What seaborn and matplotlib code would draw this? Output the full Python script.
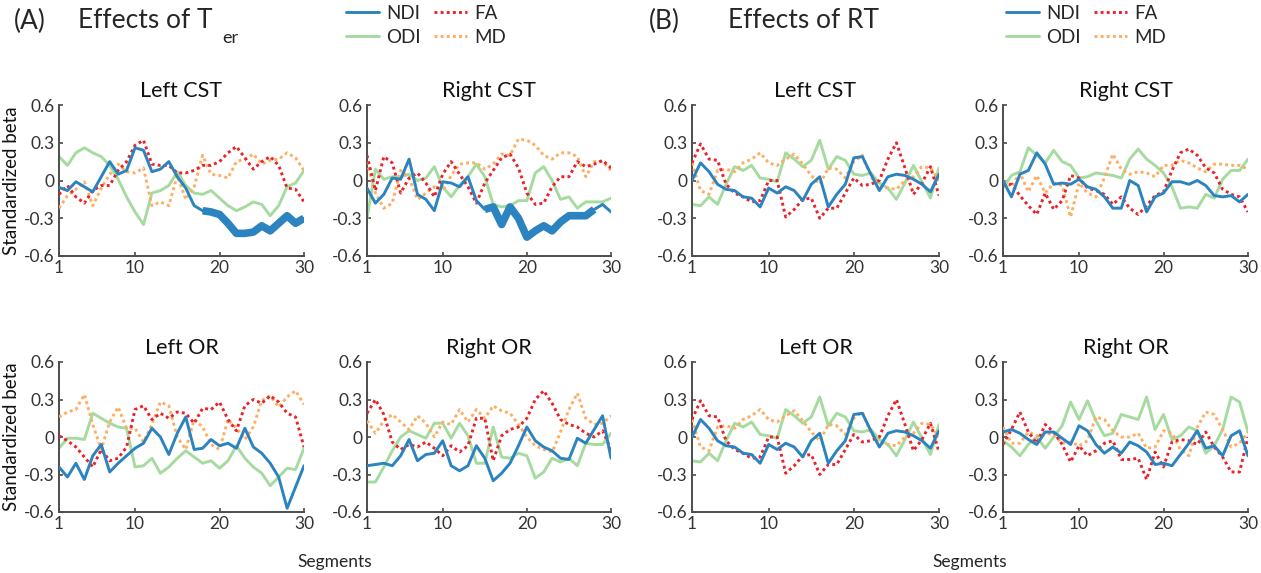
import matplotlib
matplotlib.use("Agg")
import matplotlib.pyplot as plt
import seaborn as sns
import numpy as np
import pandas as pd

# ---------------- data ----------------
segments = list(range(1, 31))
xticks = [1, 10, 20, 30]
xticklabels = ["1", "10", "20", "30"]
yticks = [-0.6, -0.3, 0, 0.3, 0.6]
yticklabels = ["-0.6", "-0.3", "0", "0.3", "0.6"]

# (A) Effects of Ter - Left CST
A_LCST_NDI = [-0.055, -0.08, -0.01, -0.05, -0.09, 0.03, 0.15, 0.05, 0.08, 0.26, 0.24, 0.07, 0.09, 0.15, 0.03,
              -0.06, -0.20, -0.24, -0.25, -0.27, -0.34, -0.42, -0.42, -0.41, -0.36, -0.40, -0.34, -0.28, -0.34, -0.30]
A_LCST_ODI = [0.19, 0.12, 0.22, 0.26, 0.22, 0.19, 0.12, 0.01, -0.13, -0.25, -0.35, -0.10, -0.08, -0.04, 0.07,
              -0.04, -0.10, -0.11, -0.08, -0.14, -0.20, -0.24, -0.21, -0.17, -0.19, -0.28, -0.20, -0.05, -0.02, 0.08]
A_LCST_FA = [-0.11, -0.04, -0.13, -0.18, -0.08, -0.04, -0.04, 0.08, 0.15, 0.28, 0.32, 0.13, 0.12, 0.12, 0.06,
             0.06, 0.08, 0.12, 0.12, 0.15, 0.22, 0.27, 0.18, 0.09, 0.15, 0.19, 0.12, -0.06, -0.07, -0.17]
A_LCST_MD = [-0.22, -0.12, -0.07, -0.01, -0.20, -0.06, 0.05, 0.13, 0.07, 0.06, 0.10, -0.20, -0.17, -0.20, 0.04,
             -0.15, -0.05, 0.20, 0.05, 0.04, 0.02, 0.15, 0.17, 0.21, 0.13, 0.16, 0.17, 0.22, 0.18, 0.08]
A_LCST_SIG = list(range(18, 31))

# (A) Right CST
A_RCST_NDI = [-0.06, -0.18, -0.11, 0.02, 0.01, 0.17, -0.11, -0.15, -0.24, -0.01, -0.02, -0.05, 0.03, -0.16, -0.23,
              -0.21, -0.35, -0.21, -0.30, -0.45, -0.40, -0.36, -0.40, -0.33, -0.28, -0.28, -0.28, -0.23, -0.19, -0.25]
A_RCST_ODI = [-0.30, 0.09, 0.01, 0.03, 0.03, 0.05, 0.00, 0.02, 0.11, -0.05, -0.13, -0.04, 0.03, 0.13, 0.03,
              -0.19, -0.21, -0.20, -0.16, -0.16, 0.06, 0.11, 0.00, -0.15, -0.13, -0.22, -0.17, -0.17, -0.17, -0.14]
A_RCST_FA = [0.20, -0.08, 0.19, 0.14, -0.10, 0.02, 0.06, -0.02, -0.13, 0.05, 0.15, 0.05, -0.05, -0.18, -0.02,
             0.08, 0.18, 0.21, 0.10, -0.10, -0.19, -0.18, -0.05, 0.03, 0.03, 0.15, 0.11, 0.13, 0.16, 0.10]
A_RCST_MD = [0.15, -0.10, -0.22, -0.18, 0.08, 0.02, -0.15, -0.10, -0.05, -0.08, 0.04, 0.13, 0.14, 0.14, 0.09,
             0.13, 0.21, 0.20, 0.33, 0.32, 0.28, 0.20, 0.17, 0.22, 0.22, 0.19, 0.03, 0.15, 0.15, 0.08]
A_RCST_SIG = list(range(15, 29))

# (A) Left OR
A_LOR_NDI = [-0.24, -0.32, -0.21, -0.34, -0.15, -0.06, -0.28, -0.21, -0.15, -0.09, -0.05, 0.07, 0.00, -0.14, 0.03,
             0.16, -0.10, -0.09, -0.02, -0.07, -0.05, -0.09, 0.07, -0.08, -0.13, -0.21, -0.32, -0.57, -0.40, -0.23]
A_LOR_ODI = [-0.09, -0.01, -0.01, -0.02, 0.19, 0.15, 0.11, 0.08, 0.07, -0.24, -0.23, -0.17, -0.29, -0.24, -0.17,
             -0.11, -0.16, -0.21, -0.19, -0.25, -0.19, -0.07, -0.17, -0.24, -0.29, -0.39, -0.32, -0.25, -0.26, -0.09]
A_LOR_FA = [0.01, -0.03, -0.08, -0.16, -0.24, -0.10, -0.19, -0.17, -0.08, 0.22, 0.25, 0.14, 0.19, 0.15, 0.20,
            0.19, 0.11, 0.23, 0.22, 0.28, 0.14, 0.05, 0.25, 0.30, 0.27, 0.33, 0.28, 0.19, 0.16, -0.08]
A_LOR_MD = [0.16, 0.20, 0.22, 0.34, 0.10, -0.10, 0.12, 0.24, 0.07, 0.07, -0.04, 0.10, 0.28, 0.25, 0.00,
            -0.10, 0.14, 0.08, -0.06, -0.10, 0.14, 0.07, -0.02, 0.08, 0.29, 0.33, 0.24, 0.32, 0.37, 0.26]

# (A) Right OR
A_ROR_NDI = [-0.23, -0.22, -0.21, -0.23, -0.15, -0.02, -0.19, -0.14, -0.13, -0.03, -0.23, -0.27, -0.23, -0.07, -0.17,
             -0.35, -0.29, -0.21, -0.07, 0.08, -0.03, -0.08, -0.11, -0.17, -0.18, -0.01, -0.05, 0.06, 0.17, -0.17]
A_ROR_ODI = [-0.36, -0.36, -0.24, -0.11, 0.00, 0.05, 0.02, -0.01, 0.11, 0.11, -0.01, 0.11, 0.01, -0.21, -0.21,
             0.08, -0.16, -0.17, -0.13, -0.15, -0.33, -0.28, -0.17, -0.20, -0.17, -0.23, -0.05, -0.06, -0.06, 0.03]
A_ROR_FA = [0.19, 0.30, 0.18, -0.04, -0.10, -0.06, -0.08, -0.04, -0.09, -0.15, -0.07, -0.12, -0.07, 0.15, 0.15,
            -0.19, 0.01, 0.06, 0.08, 0.15, 0.30, 0.37, 0.27, 0.14, 0.10, 0.08, 0.03, 0.00, 0.05, -0.10]
A_ROR_MD = [0.13, 0.03, 0.13, 0.18, 0.12, 0.06, 0.17, 0.11, 0.00, 0.12, 0.10, 0.22, 0.12, 0.22, 0.15,
            0.25, 0.21, 0.19, 0.10, 0.00, -0.07, -0.10, -0.12, 0.04, 0.22, 0.35, 0.15, 0.10, 0.11, 0.17]

# (B) Effects of RT - Left CST
B_LCST_NDI = [0.00, 0.14, 0.07, -0.03, -0.07, -0.08, -0.13, -0.14, -0.21, -0.06, -0.10, -0.05, -0.08, -0.16, -0.03,
              0.03, -0.21, -0.11, -0.03, 0.18, 0.19, 0.05, -0.08, 0.03, 0.05, 0.04, 0.01, -0.03, -0.09, 0.05]
B_LCST_ODI = [-0.19, -0.20, -0.13, -0.19, -0.03, 0.11, 0.08, 0.12, 0.02, 0.01, -0.01, 0.22, 0.17, 0.11, 0.16,
              0.32, 0.09, 0.19, 0.16, 0.05, 0.04, 0.06, -0.02, -0.06, -0.15, -0.02, 0.12, -0.01, -0.14, 0.10]
B_LCST_FA = [0.14, 0.29, 0.17, 0.16, -0.03, -0.10, -0.13, -0.17, -0.16, 0.00, 0.00, -0.29, -0.23, -0.15, -0.14,
             -0.30, -0.22, -0.22, -0.10, 0.02, -0.04, -0.03, 0.00, 0.17, 0.30, 0.10, -0.11, -0.02, 0.11, -0.12]
B_LCST_MD = [0.14, -0.08, -0.11, 0.08, 0.09, 0.07, 0.14, 0.17, 0.22, 0.14, 0.12, 0.17, 0.21, 0.13, 0.04,
             -0.03, 0.10, 0.09, 0.02, 0.15, 0.20, 0.03, -0.05, -0.06, -0.07, 0.00, 0.03, 0.11, 0.10, 0.00]

# (B) Right CST
B_RCST_NDI = [0.00, -0.13, 0.05, 0.08, 0.22, 0.13, -0.03, -0.02, -0.03, 0.01, -0.05, -0.07, -0.13, -0.22, -0.22,
              0.00, -0.04, -0.25, -0.13, -0.10, -0.01, -0.01, -0.03, 0.00, -0.04, -0.12, -0.13, -0.12, -0.17, -0.11]
B_RCST_ODI = [-0.06, 0.04, 0.07, 0.26, 0.20, 0.14, 0.24, 0.15, 0.12, 0.02, 0.03, 0.06, 0.05, 0.04, 0.02,
              0.17, 0.25, 0.17, 0.12, 0.06, -0.05, -0.22, -0.21, -0.22, -0.11, -0.14, 0.01, 0.08, 0.08, 0.17]
B_RCST_FA = [-0.03, -0.03, -0.12, -0.20, -0.27, -0.10, -0.23, -0.16, 0.04, 0.02, -0.06, -0.08, -0.11, -0.19, -0.13,
             -0.22, -0.27, -0.20, -0.12, -0.09, 0.08, 0.22, 0.25, 0.20, 0.10, 0.06, -0.07, -0.11, -0.13, -0.25]
B_RCST_MD = [0.00, -0.05, 0.06, -0.09, 0.04, -0.10, -0.02, -0.04, -0.29, -0.02, -0.10, -0.13, 0.02, 0.21, 0.09,
             0.05, 0.07, 0.06, 0.03, 0.12, 0.12, 0.16, 0.14, 0.10, 0.07, 0.13, 0.13, 0.12, 0.12, 0.09]

# (B) Left OR
B_LOR_NDI = [0.00, 0.14, 0.07, -0.03, -0.07, -0.08, -0.13, -0.14, -0.21, -0.06, -0.10, -0.05, -0.08, -0.16, -0.03,
             0.03, -0.21, -0.11, -0.03, 0.18, 0.19, 0.05, -0.08, 0.03, 0.05, 0.04, 0.01, -0.03, -0.09, 0.05]
B_LOR_ODI = [-0.19, -0.20, -0.13, -0.19, -0.03, 0.11, 0.08, 0.12, 0.02, 0.01, -0.01, 0.22, 0.17, 0.11, 0.16,
             0.32, 0.09, 0.19, 0.16, 0.05, 0.04, 0.06, -0.02, -0.06, -0.15, -0.02, 0.12, -0.01, -0.14, 0.10]
B_LOR_FA = [0.14, 0.29, 0.17, 0.16, -0.03, -0.10, -0.13, -0.17, -0.16, 0.00, 0.00, -0.29, -0.23, -0.15, -0.14,
            -0.30, -0.22, -0.22, -0.10, 0.02, -0.04, -0.03, 0.00, 0.17, 0.30, 0.10, -0.11, -0.02, 0.11, -0.12]
B_LOR_MD = [0.14, -0.08, -0.11, 0.08, 0.09, 0.07, 0.14, 0.17, 0.22, 0.14, 0.12, 0.17, 0.21, 0.13, 0.04,
            -0.03, 0.10, 0.09, 0.02, 0.15, 0.20, 0.03, -0.05, -0.06, -0.07, 0.00, 0.03, 0.11, 0.10, 0.00]

# (B) Right OR
B_ROR_NDI = [0.04, 0.06, 0.03, -0.02, -0.06, 0.04, 0.04, -0.01, -0.06, 0.09, 0.05, -0.06, -0.13, -0.08, -0.13,
             -0.04, -0.07, -0.12, -0.22, -0.21, -0.23, -0.14, -0.05, 0.05, -0.09, -0.07, -0.15, 0.01, 0.05, -0.15]
B_ROR_ODI = [-0.03, -0.08, -0.15, -0.06, 0.00, -0.09, 0.00, 0.09, 0.28, 0.14, 0.29, 0.13, 0.01, 0.03, 0.18,
             0.16, 0.14, 0.32, 0.06, 0.18, -0.02, 0.01, 0.08, 0.05, -0.13, -0.07, 0.06, 0.32, 0.28, 0.04]
B_ROR_FA = [-0.06, 0.06, 0.20, 0.04, -0.05, 0.10, 0.04, -0.06, -0.20, -0.07, -0.15, -0.11, -0.05, -0.03, -0.18,
            -0.18, -0.17, -0.34, -0.12, -0.24, -0.04, -0.02, -0.03, -0.06, 0.04, -0.08, -0.16, -0.28, -0.28, 0.00]
B_ROR_MD = [0.08, -0.05, -0.05, 0.04, 0.01, 0.03, 0.02, -0.05, -0.04, -0.07, -0.03, 0.16, 0.14, 0.05, 0.00,
            0.00, 0.03, -0.09, -0.08, 0.05, 0.03, -0.10, -0.15, 0.08, 0.20, 0.18, 0.06, -0.08, -0.05, 0.04]

series_names = ["NDI", "ODI", "FA", "MD"]

# ---------------- styling ----------------
sns.set_theme(style="ticks")
plt.rcParams["font.family"] = ["Lato", "DejaVu Sans"]

colors = {"NDI": "#2b83c0", "ODI": "#a6dba0", "FA": "#e8232a", "MD": "#fdae61"}
styles = {"NDI": "-", "ODI": "-", "FA": (0, (1, 1.1)), "MD": (0, (1, 1.1))}
axis_col = "#4d4d4d"

fig = plt.figure(figsize=(12.61, 5.73), dpi=100)
W, H = 1261, 573


def rect(x0, x1, y0, y1):
    return [x0 / W, 1 - y1 / H, (x1 - x0) / W, (y1 - y0) / H]


col_x = [(59, 304), (367, 611), (692, 939), (1003, 1248)]
row_y = [(105, 256), (362, 512)]

panels = [
    (0, 0, "Left CST", [A_LCST_NDI, A_LCST_ODI, A_LCST_FA, A_LCST_MD], A_LCST_SIG),
    (1, 0, "Right CST", [A_RCST_NDI, A_RCST_ODI, A_RCST_FA, A_RCST_MD], A_RCST_SIG),
    (0, 1, "Left OR", [A_LOR_NDI, A_LOR_ODI, A_LOR_FA, A_LOR_MD], None),
    (1, 1, "Right OR", [A_ROR_NDI, A_ROR_ODI, A_ROR_FA, A_ROR_MD], None),
    (2, 0, "Left CST", [B_LCST_NDI, B_LCST_ODI, B_LCST_FA, B_LCST_MD], None),
    (3, 0, "Right CST", [B_RCST_NDI, B_RCST_ODI, B_RCST_FA, B_RCST_MD], None),
    (2, 1, "Left OR", [B_LOR_NDI, B_LOR_ODI, B_LOR_FA, B_LOR_MD], None),
    (3, 1, "Right OR", [B_ROR_NDI, B_ROR_ODI, B_ROR_FA, B_ROR_MD], None),
]

legend_handles = None
for c, r, title, vals, sig in panels:
    x0, x1 = col_x[c]
    y0, y1 = row_y[r]
    ax = fig.add_axes(rect(x0, x1, y0, y1))
    for name, v in zip(series_names, vals):
        df = pd.DataFrame({"Segment": segments, "beta": v})
        sns.lineplot(data=df, x="Segment", y="beta", ax=ax, color=colors[name],
                     linestyle=styles[name], linewidth=2.1, label=name, legend=False,
                     zorder={"ODI": 2, "MD": 3, "FA": 4, "NDI": 5}[name])
    if sig is not None:
        df = pd.DataFrame({"Segment": segments, "beta": vals[0]})
        dsig = df[df["Segment"].isin(sig)]
        sns.lineplot(data=dsig, x="Segment", y="beta", ax=ax, color=colors["NDI"],
                     linewidth=5.5, legend=False, zorder=6, solid_capstyle="butt")
    if legend_handles is None:
        legend_handles = ax.get_lines()[:4]
    ax.set_xlim(1, 30)
    ax.set_ylim(-0.6, 0.6)
    ax.set_xticks(xticks)
    ax.set_xticklabels(xticklabels)
    ax.set_yticks(yticks)
    ax.set_yticklabels(yticklabels)
    ax.set_xlabel("")
    ax.set_ylabel("")
    for s in ["top", "right"]:
        ax.spines[s].set_visible(False)
    for s in ["left", "bottom"]:
        ax.spines[s].set_color(axis_col)
        ax.spines[s].set_linewidth(1.4)
    ax.tick_params(axis="both", direction="in", length=3, width=1.2, color=axis_col,
                   labelcolor="#333333", labelsize=12.5, pad=3)
    ax.set_title(title, fontsize=15.5, pad=6, color="#111111")
    if c == 0:
        ax.set_ylabel("Standardized beta", fontsize=13.5, color="#111111", labelpad=3)

# headers
fig.text(14 / W, 1 - 21 / H, "(A)", fontsize=19, va="center", ha="left")
fig.text(78 / W, 1 - 21 / H, "Effects of T", fontsize=19, va="center", ha="left")
fig.text(222 / W, 1 - 38 / H, "er", fontsize=13, va="center", ha="left")
fig.text(649 / W, 1 - 21 / H, "(B)", fontsize=19, va="center", ha="left")
fig.text(728 / W, 1 - 21 / H, "Effects of RT", fontsize=19, va="center", ha="left")

for lx in (346 / W, 1006 / W):
    fig.legend(handles=legend_handles, labels=series_names, ncol=2, frameon=False,
               loc="upper left", bbox_to_anchor=(lx, 1 - 5 / H), fontsize=13.5,
               handlelength=1.75, handletextpad=0.4, columnspacing=0.7, labelspacing=0.35,
               borderaxespad=0, borderpad=0)

fig.text(335 / W, 1 - 562 / H, "Segments", fontsize=12.5, ha="center", va="center")
fig.text(970 / W, 1 - 562 / H, "Segments", fontsize=12.5, ha="center", va="center")

fig.savefig("out.png", dpi=100)
